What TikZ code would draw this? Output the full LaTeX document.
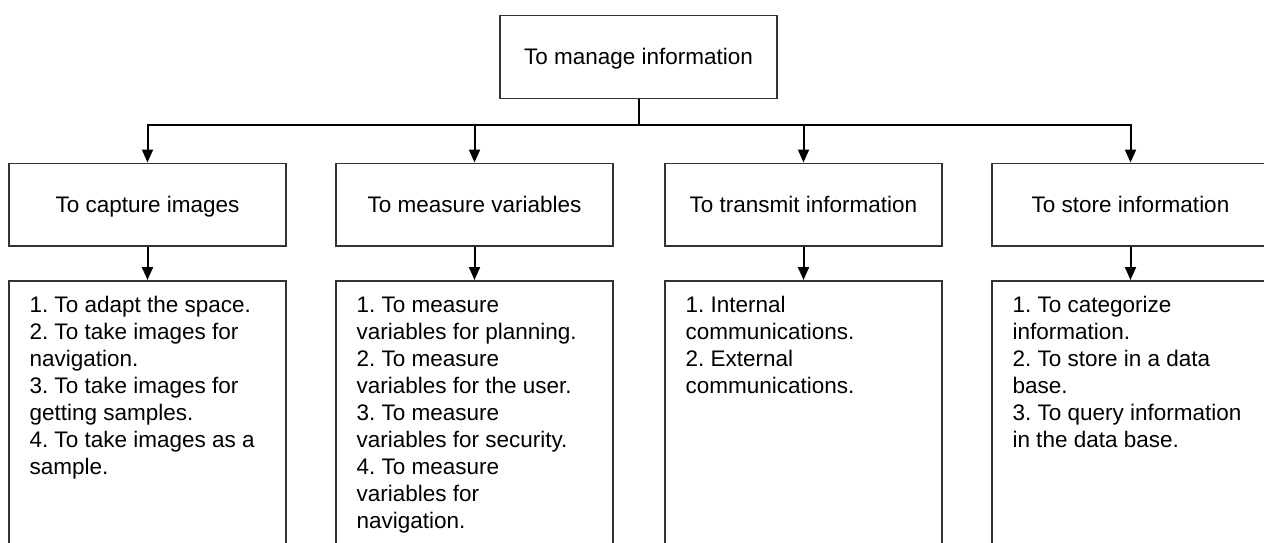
\documentclass[tikz,border=0pt]{standalone}
\usepackage{fontspec}
\setmainfont{Liberation Sans}
\usetikzlibrary{arrows.meta}
\frenchspacing

% list of sub-tasks, text set from the top of the box
\newcommand{\tasklist}[1]{%
  \begin{minipage}[t][300pt][t]{236pt}\raggedright\frenchspacing\strut #1\end{minipage}}

\begin{document}
\begin{tikzpicture}[x=1pt, y=-1pt,
  txt/.style={font=\fontsize{22.5}{27}\selectfont},
  box/.style={txt, draw=black!80, line width=1.5pt,
    minimum width=277pt, minimum height=82.5pt, inner sep=0pt,
    text height=18pt, text depth=2.5pt},
  listbox/.style={txt, draw=black!80, line width=1.5pt, anchor=north,
    inner xsep=20.5pt, inner ysep=13pt},
  trunk/.style={line width=2pt},
  link/.style={line width=2pt, -{Triangle[length=13pt,width=11pt]}}]

\clip (0,0) rectangle (1264,543);

% root
\node[box] (top) at (638.5,57) {To manage information};

% main functions
\node[box] (cap)   at (147.5,204.5)  {To capture images};
\node[box] (meas)  at (474.5,204.5)  {To measure variables};
\node[box] (trans) at (803.5,204.5)  {To transmit information};
\node[box] (store) at (1130.5,204.5) {To store information};

% sub-tasks
\node[listbox] (capL) at (147.5,280) {\tasklist{%
  1. To adapt the space.\\
  2. To take images for\\
  navigation.\\
  3. To take images for\\
  getting samples.\\
  4. To take images as a\\
  sample.}};
\node[listbox] (measL) at (474.5,280) {\tasklist{%
  1. To measure\\
  variables for planning.\\
  2. To measure\\
  variables for the user.\\
  3. To measure\\
  variables for security.\\
  4. To measure\\
  variables for\\
  navigation.}};
\node[listbox] (transL) at (803.5,280) {\tasklist{%
  1. Internal\\
  communications.\\
  2. External\\
  communications.}};
\node[listbox] (storeL) at (1130.5,280) {\tasklist{%
  1. To categorize\\
  information.\\
  2. To store in a data\\
  base.\\
  3. To query information\\
  in the data base.}};

% distribution bus
\coordinate (bus) at ([yshift=-26pt]top.south);
\draw[trunk] (top.south) -- (bus);
\foreach \n in {cap,meas,trans,store}
  \draw[link] (bus) -| (\n.north);

% function to sub-task links
\draw[link] (cap.south)   -- (capL.north);
\draw[link] (meas.south)  -- (measL.north);
\draw[link] (trans.south) -- (transL.north);
\draw[link] (store.south) -- (storeL.north);
\end{tikzpicture}
\end{document}
